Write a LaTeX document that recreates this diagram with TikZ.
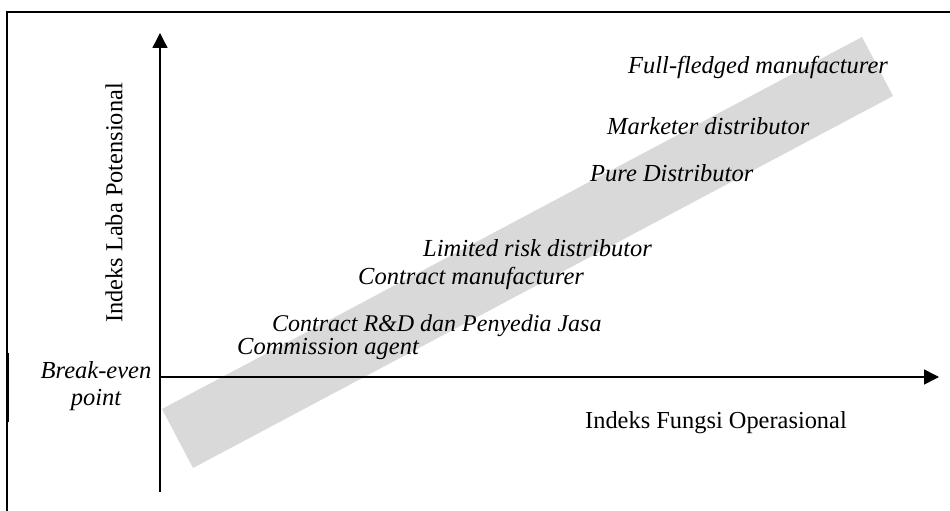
\documentclass[tikz,border=0pt]{standalone}
\usepackage{fontspec}
\setmainfont{Liberation Serif}
\usetikzlibrary{arrows.meta}
\begin{document}
\begin{tikzpicture}[x=1pt,y=-1pt,
  frameline/.style={line width=1.6pt},
  axisline/.style={line width=1.5pt,-{Triangle[length=15pt,width=15pt]}},
  band/.style={fill=black!15,draw=none},
  role/.style={font=\itshape\fontsize{24.5}{29}\selectfont,inner sep=0pt,anchor=base west},
  axislabel/.style={font=\fontsize{24.4}{29}\selectfont,inner sep=0pt}]
\useasboundingbox (0,0) rectangle (950,511);
% outer frame (top and left edges)
\coordinate (fTL) at (7,12);
\coordinate (fTR) at (950,12);
\coordinate (fBL) at (7,511);
\draw[frameline] (fTR) -- (fTL) -- (fBL);
\coordinate (fS1) at (7.5,353);
\coordinate (fS2) at (7.5,422);
\draw[line width=2.8pt] (fS1) -- (fS2);
% shaded band of functional profiles
\coordinate (b1) at (162,409);
\coordinate (b2) at (193,468);
\coordinate (b3) at (893,96);
\coordinate (b4) at (862,37);
\fill[band] (b1) -- (b2) -- (b3) -- (b4) -- cycle;
% axes
\coordinate (O) at (160,377);
\coordinate (ybot) at (160,492);
\coordinate (ytop) at (160,33);
\coordinate (xend) at (939,377);
\draw[axisline] (ybot) -- (ytop);
\draw[axisline] (O) -- (xend);
% entity labels
\node[role] (ffm) at (628,74) {Full-fledged manufacturer};
\node[role] (md) at (607,134) {Marketer distributor};
\node[role] (pd) at (590,181) {Pure Distributor};
\node[role] (lrd) at (423,256) {Limited risk distributor};
\node[role] (cm) at (358,284) {Contract manufacturer};
\node[role,font=\itshape\fontsize{24}{29}\selectfont] (crd) at (272,331) {Contract R\&D dan Penyedia Jasa};
\node[role] (ca) at (237,354) {Commission agent};
\node[font=\itshape\fontsize{24.5}{27}\selectfont,align=center,inner sep=0pt] (bep) at (96,386) {Break-even\\point};
% axis labels
\node[axislabel,anchor=base west] (xl) at (585,428) {Indeks Fungsi Operasional};
\node[axislabel,rotate=90] (yl) at (114,203) {Indeks Laba Potensional};
\end{tikzpicture}
\end{document}
